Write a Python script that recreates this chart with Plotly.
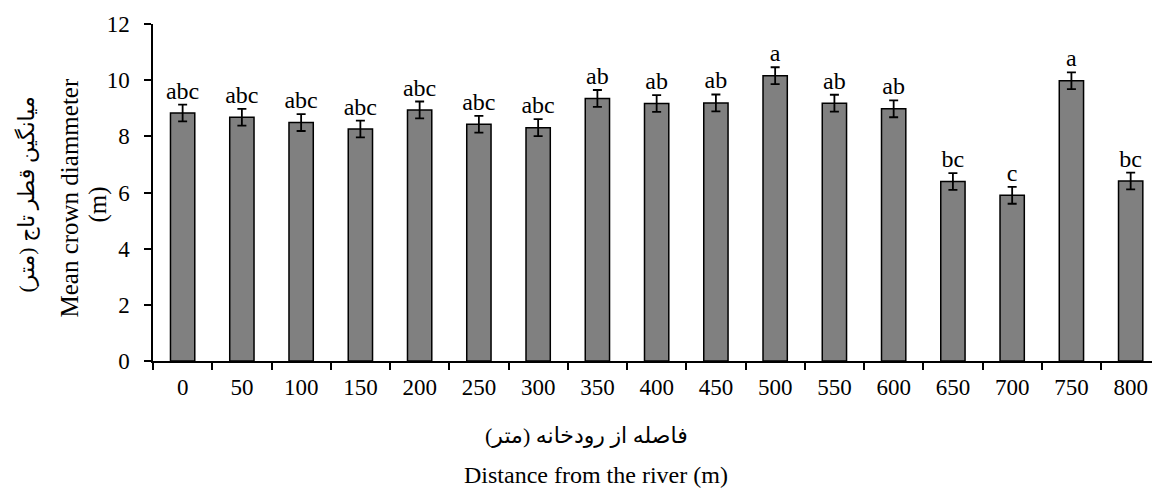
import plotly.graph_objects as go

distances = ["0", "50", "100", "150", "200", "250", "300", "350", "400", "450",
             "500", "550", "600", "650", "700", "750", "800"]
means = [8.83, 8.68, 8.49, 8.26, 8.94, 8.43, 8.31, 9.35, 9.17, 9.19,
         10.16, 9.18, 8.98, 6.39, 5.90, 9.98, 6.41]
errors = [0.3] * 17
letters = ["abc", "abc", "abc", "abc", "abc", "abc", "abc", "ab", "ab", "ab",
           "a", "ab", "ab", "bc", "c", "a", "bc"]

FONT = "Liberation Serif, Times New Roman, DejaVu Sans, serif"

fig = go.Figure()
fig.add_trace(go.Bar(
    x=distances, y=means,
    marker=dict(color="#808080", line=dict(color="black", width=1.5)),
    error_y=dict(type="data", array=errors, visible=True, color="black",
                 thickness=1.8, width=4.5),
    width=0.41,
    showlegend=False,
))
fig.add_trace(go.Scatter(
    x=distances, y=[m + e for m, e in zip(means, errors)],
    mode="text", text=letters, textposition="top center",
    textfont=dict(family=FONT, size=24, color="black"),
    showlegend=False, hoverinfo="skip",
))

W, L = 1152, 152.5
T, B = 24, 361
pw = W - L
ph = B - T

def px(xp):
    return (xp - L) / pw

def py(yp):
    return (B - yp) / ph

fig.update_layout(
    width=1152, height=488,
    margin=dict(l=L, r=0, t=T, b=488 - B, pad=0),
    plot_bgcolor="white", paper_bgcolor="white",
    font=dict(family=FONT, size=23, color="black"),
    xaxis=dict(
        type="category", range=[-0.5, 16.36],
        showline=True, linecolor="black", linewidth=1.5,
        ticks="outside", tickson="boundaries", ticklen=7, tickwidth=1.5,
        tickcolor="black", showgrid=False, ticklabelstandoff=5,
        tickfont=dict(family=FONT, size=23),
    ),
    yaxis=dict(
        range=[0, 12], dtick=2, showline=True, linecolor="black", linewidth=1.5,
        ticks="outside", ticklen=7, tickwidth=1.5, tickcolor="black",
        showgrid=False, zeroline=False, ticklabelstandoff=10,
        tickfont=dict(family=FONT, size=23),
    ),
    annotations=[
        dict(text="فاصله از رودخانه (متر)", xref="paper", yref="paper",
             x=px(586), y=py(435), xanchor="center", yanchor="middle",
             showarrow=False, font=dict(family=FONT, size=22)),
        dict(text="Distance from the river (m)", xref="paper", yref="paper",
             x=px(596), y=py(475), xanchor="center", yanchor="middle",
             showarrow=False, font=dict(family=FONT, size=24)),
        dict(text="میانگین قطر تاج (متر)", xref="paper", yref="paper",
             x=px(26), y=py(195), xanchor="center", yanchor="middle", textangle=-90,
             showarrow=False, font=dict(family=FONT, size=22)),
        dict(text="Mean crown diammeter", xref="paper", yref="paper",
             x=px(68), y=py(198), xanchor="center", yanchor="middle", textangle=-90,
             showarrow=False, font=dict(family=FONT, size=25)),
        dict(text="(m)", xref="paper", yref="paper",
             x=px(97), y=py(205), xanchor="center", yanchor="middle", textangle=-90,
             showarrow=False, font=dict(family=FONT, size=25)),
    ],
)

fig.write_html("out.html", config={"displayModeBar": False},
               post_script="document.body.style.margin='0';document.body.style.overflow='hidden';")
